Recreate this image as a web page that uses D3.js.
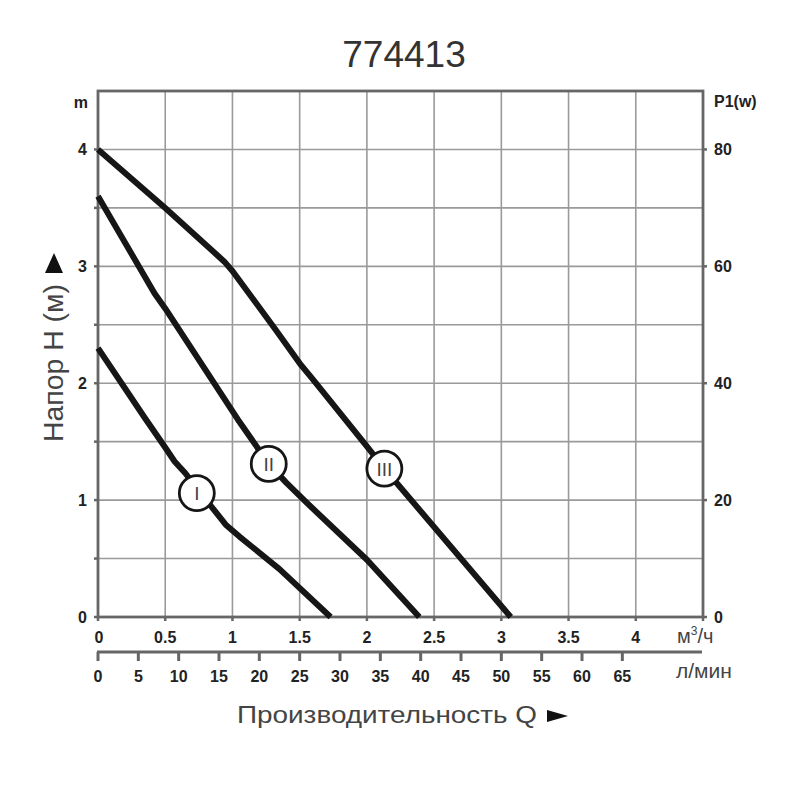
<!DOCTYPE html>
<html><head><meta charset="utf-8">
<script src="https://cdn.jsdelivr.net/npm/d3@7"></script>
<style>body{margin:0;background:#fff}svg{display:block}text{font-family:"Liberation Sans",Arial,sans-serif}</style>
</head><body><svg id="c" width="800" height="800"></svg>
<script>
const title = "774413";
const flowTicks = [0, 0.5, 1, 1.5, 2, 2.5, 3, 3.5, 4];
const flowTickLabels = ["0", "0.5", "1", "1.5", "2", "2.5", "3", "3.5", "4"];
const lpmTicks = [0, 5, 10, 15, 20, 25, 30, 35, 40, 45, 50, 55, 60, 65];
const headTicks = [0, 1, 2, 3, 4];
const powerTicks = [0, 20, 40, 60, 80];
const curveNames = ["I", "II", "III"];
const curveI_Q = [0, 0.35, 0.5, 0.57, 0.65, 0.75, 0.95, 1.05, 1.35, 1.73];
const curveI_H = [2.3, 1.70, 1.45, 1.33, 1.23, 1.08, 0.79, 0.69, 0.41, 0];
const curveII_Q = [0, 0.42, 0.5, 1.04, 1.27, 1.4, 1.55, 2.0, 2.39];
const curveII_H = [3.6, 2.77, 2.64, 1.69, 1.31, 1.15, 0.98, 0.49, 0];
const curveIII_Q = [0, 0.5, 0.94, 1.0, 1.32, 1.5, 1.6, 2.0, 2.13, 3.07];
const curveIII_H = [4.0, 3.5, 3.04, 2.96, 2.46, 2.17, 2.03, 1.46, 1.27, 0];
const labelQ = [0.735, 1.27, 2.13];
const labelH = [1.06, 1.31, 1.27];

const svg = d3.select("#c");
const L = 98, R = 703, T = 91, B = 617;
const x = d3.scaleLinear().domain([0, 4.5]).range([L, R]);
const xl = d3.scaleLinear().domain([0, 75]).range([L, R]);
const y = d3.scaleLinear().domain([0, 4.5]).range([B, T]);
const yp = d3.scaleLinear().domain([0, 90]).range([B, T]);
const gridCol = "#9a9a9a", frameCol = "#666", txt = "#222";

// grid
const g = svg.append("g");
g.selectAll(".gx").data(d3.range(1, 9).map(i => i * 0.5)).join("line")
  .attr("x1", d => x(d)).attr("x2", d => x(d)).attr("y1", T).attr("y2", B)
  .attr("stroke", gridCol).attr("stroke-width", 1.6);
g.selectAll(".gy").data(d3.range(1, 9).map(i => i * 0.5)).join("line")
  .attr("y1", d => y(d)).attr("y2", d => y(d)).attr("x1", L).attr("x2", R)
  .attr("stroke", gridCol).attr("stroke-width", 1.6);
// frame
g.append("rect").attr("x", L).attr("y", T).attr("width", R - L).attr("height", B - T)
  .attr("fill", "none").attr("stroke", frameCol).attr("stroke-width", 2.8);
// small tick nubs
g.selectAll(".tl").data(d3.range(0, 9).map(i => i * 0.5)).join("line")
  .attr("x1", L - 4).attr("x2", L).attr("y1", d => y(d)).attr("y2", d => y(d))
  .attr("stroke", frameCol).attr("stroke-width", 2.5);
g.selectAll(".tr").data(d3.range(0, 5)).join("line")
  .attr("x1", R).attr("x2", R + 4).attr("y1", d => y(d)).attr("y2", d => y(d))
  .attr("stroke", frameCol).attr("stroke-width", 2.5);
g.selectAll(".tb").data(d3.range(0, 10).map(i => i * 0.5)).join("line")
  .attr("x1", d => x(d)).attr("x2", d => x(d)).attr("y1", B).attr("y2", B + 4)
  .attr("stroke", frameCol).attr("stroke-width", 2.5);

// left tick labels
const tickFont = "16px";
svg.selectAll(".yl").data(headTicks).join("text")
  .attr("x", 87).attr("y", d => y(d) + 6).attr("text-anchor", "end")
  .attr("font-size", tickFont).attr("font-weight", "bold").attr("fill", txt).text(d => d);
svg.append("text").attr("x", 88).attr("y", 108).attr("text-anchor", "end")
  .attr("font-size", tickFont).attr("font-weight", "bold").attr("fill", txt).text("m");
// right tick labels
svg.selectAll(".pl").data(powerTicks).join("text")
  .attr("x", 714).attr("y", d => yp(d) + 6)
  .attr("font-size", tickFont).attr("font-weight", "bold").attr("fill", txt).text(d => d);
svg.append("text").attr("x", 714).attr("y", 107)
  .attr("font-size", "16px").attr("font-weight", "bold").attr("fill", txt).text("P1(w)");

// bottom m3/h labels
svg.selectAll(".xl").data(flowTicks).join("text")
  .attr("x", (d, i) => i === 0 ? x(d) + 1 : x(d)).attr("y", 643).attr("text-anchor", "middle")
  .attr("font-size", tickFont).attr("font-weight", "bold").attr("fill", txt)
  .text((d, i) => flowTickLabels[i]);
const unit = svg.append("text").attr("x", 677).attr("y", 643)
  .attr("font-size", "20px").attr("fill", "#444");
unit.append("tspan").text("м");
unit.append("tspan").attr("font-size", "12px").attr("dy", -8).text("3");
unit.append("tspan").attr("dy", 8).text("/ч");

// lower l/min axis
svg.append("line").attr("x1", L - 1).attr("x2", R - 1).attr("y1", 652).attr("y2", 652)
  .attr("stroke", frameCol).attr("stroke-width", 3);
svg.selectAll(".lt").data(lpmTicks).join("line")
  .attr("x1", d => xl(d)).attr("x2", d => xl(d)).attr("y1", 652).attr("y2", 661)
  .attr("stroke", frameCol).attr("stroke-width", 3);
svg.selectAll(".ll").data(lpmTicks).join("text")
  .attr("x", d => xl(d)).attr("y", 682).attr("text-anchor", "middle")
  .attr("font-size", tickFont).attr("font-weight", "bold").attr("fill", txt).text(d => d);
svg.append("text").attr("x", 676).attr("y", 678)
  .attr("font-size", "21px").attr("fill", "#444").text("л/мин");

// curves
const line = d3.line().x(d => x(d[0])).y(d => y(d[1])).curve(d3.curveLinear);
const series = [
  d3.zip(curveI_Q, curveI_H),
  d3.zip(curveII_Q, curveII_H),
  d3.zip(curveIII_Q, curveIII_H)
];
svg.selectAll(".cv").data(series).join("path")
  .attr("d", line).attr("fill", "none").attr("stroke", "#161616")
  .attr("stroke-width", 6).attr("stroke-linecap", "butt").attr("stroke-linejoin", "round");

// labels
const lab = svg.selectAll(".lab").data(curveNames).join("g")
  .attr("transform", (d, i) => `translate(${x(labelQ[i])},${y(labelH[i])})`);
lab.append("circle").attr("r", 17.5).attr("fill", "#fff").attr("stroke", "#161616").attr("stroke-width", 2.8);
lab.append("text").attr("text-anchor", "middle").attr("y", 7)
  .attr("font-size", "19px").attr("fill", "#444").text(d => d);

// titles
svg.append("text").attr("x", 404).attr("y", 67).attr("text-anchor", "middle")
  .attr("font-size", "37px").attr("fill", "#333").text(title);
svg.append("text").attr("transform", "translate(63,442) rotate(-90)")
  .attr("font-size", "27px").attr("fill", "#444")
  .attr("textLength", 158).attr("lengthAdjust", "spacingAndGlyphs").text("Напор H (м)");
svg.append("path").attr("d", "M54,253 L63,273 L45,273 Z").attr("fill", "#111");
svg.append("text").attr("x", 237).attr("y", 723)
  .attr("font-size", "24px").attr("fill", "#444")
  .attr("textLength", 300).attr("lengthAdjust", "spacingAndGlyphs").text("Производительность Q");
svg.append("path").attr("d", "M547,710 L568,716 L547,722 Z").attr("fill", "#111");
</script></body></html>
